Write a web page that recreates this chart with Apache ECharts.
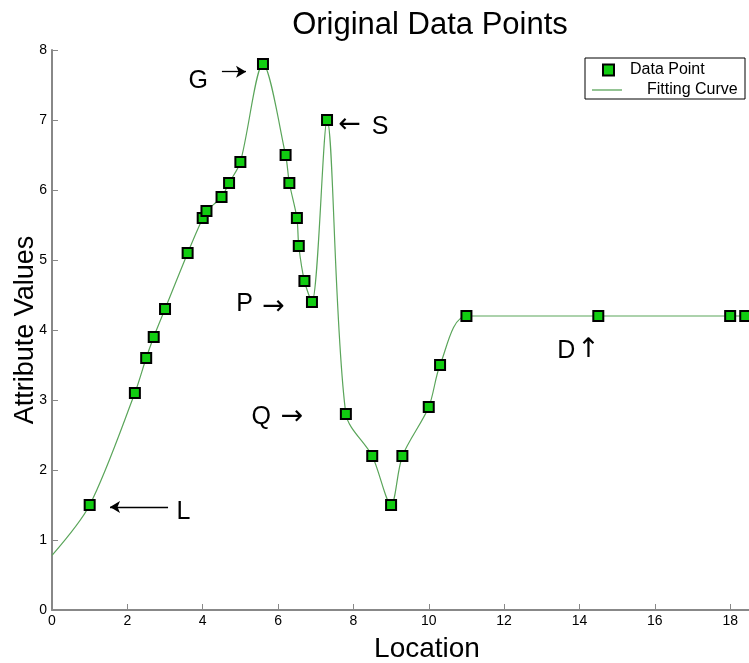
<!DOCTYPE html>
<html><head><meta charset="utf-8">
<script src="https://cdn.jsdelivr.net/npm/echarts@6/dist/echarts.min.js"></script>
<style>html,body{margin:0;padding:0;background:#fff}#c{width:749px;height:663px}</style>
</head><body><div id="c"></div>
<script>
// Data
const locations = [1.0, 2.2, 2.5, 2.7, 3.0, 3.6, 4.0, 4.1, 4.5, 4.7, 5.0, 5.6, 6.2, 6.3, 6.5, 6.55, 6.7, 6.9, 7.3, 7.8, 8.5, 9.0, 9.3, 10.0, 10.3, 11.0, 14.5, 18.0, 18.4];
const attributeValues = [1.5, 3.1, 3.6, 3.9, 4.3, 5.1, 5.6, 5.7, 5.9, 6.1, 6.4, 7.8, 6.5, 6.1, 5.6, 5.2, 4.7, 4.4, 7.0, 2.8, 2.2, 1.5, 2.2, 2.9, 3.5, 4.2, 4.2, 4.2, 4.2];
// fitting curve: starts at the y-intercept seen in the picture, passes through the points, runs to the right edge
const curveStart = [0, 0.78];
const curveEnd = [18.5, 4.2];
const xTicks = [0, 2, 4, 6, 8, 10, 12, 14, 16, 18];
const yTicks = [0, 1, 2, 3, 4, 5, 6, 7, 8];
// text annotations (letters and open arrow glyphs), in data coordinates
const annotationTexts = ['G', 'S', '\u2190', 'P', '\u2192', 'Q', '\u2192', 'D', '\u2191', 'L'];
const annotationX = [3.88, 8.71, 7.9, 5.11, 5.88, 5.55, 6.37, 13.65, 14.24, 3.49];
const annotationY = [7.56, 6.9, 6.93, 4.37, 4.33, 2.76, 2.76, 3.7, 3.71, 1.4];
// filled-head arrows (from, to) in data coordinates
const arrowLines = [[[4.51, 7.69], [5.15, 7.69]], [[3.08, 1.47], [1.54, 1.47]]];

const pts = locations.map((x, i) => [x, attributeValues[i]]);
const curve = [curveStart].concat(pts, [curveEnd]);
const font = 'Liberation Sans, Arial, Helvetica, sans-serif';
const isArrow = t => /[\u2190-\u2193]/.test(t);

const chart = echarts.init(document.getElementById('c'), null, {renderer: 'canvas'});
chart.setOption({
  animation: false,
  backgroundColor: '#fff',
  title: {text: 'Original Data Points', left: 425, top: 5, textAlign: 'center',
    textStyle: {fontFamily: font, fontSize: 31, fontWeight: 'normal', color: '#000'}},
  graphic: [{
    type: 'rect', z: 5, silent: true,
    shape: {x: 585, y: 58, width: 160, height: 41},
    style: {fill: '#fff', stroke: '#000', lineWidth: 1}
  }],
  legend: [
    {
      left: 602, top: 62, z: 10, padding: 0, itemWidth: 11, itemHeight: 11,
      textStyle: {fontFamily: font, fontSize: 16, color: '#000', padding: [0, 0, 0, 11]},
      data: [{name: 'Data Point', icon: 'rect',
        itemStyle: {color: '#11cc11', borderColor: '#000', borderWidth: 2, opacity: 1}}]
    },
    {
      left: 592, top: 82, z: 10, padding: 0, itemWidth: 30, itemHeight: 1.3,
      textStyle: {fontFamily: font, fontSize: 16, color: '#000', padding: [0, 0, 0, 20]},
      data: [{name: 'Fitting Curve', icon: 'rect'}]
    }
  ],
  grid: {left: 52, right: 0, top: 50, bottom: 53, containLabel: false, outerBoundsMode: 'none'},
  xAxis: {
    type: 'value', min: 0, max: 18.5, interval: 2,
    name: 'Location', nameLocation: 'middle', nameGap: 25, nameMoveOverlap: false,
    nameTextStyle: {fontFamily: font, fontSize: 28, color: '#000', padding: [0, 0, 0, 53]},
    axisLine: {lineStyle: {color: '#888', width: 2}},
    axisTick: {inside: true, length: 6, lineStyle: {color: '#888'}},
    axisLabel: {showMaxLabel: false, fontFamily: font, fontSize: 14, color: '#000', margin: 4,
      formatter: v => xTicks.indexOf(v) >= 0 ? String(v) : ''},
    splitLine: {show: false}
  },
  yAxis: {
    type: 'value', min: 0, max: 8, interval: 1,
    name: 'Attribute Values', nameLocation: 'middle', nameGap: 13, nameMoveOverlap: false,
    nameTextStyle: {fontFamily: font, fontSize: 27, color: '#000'},
    axisLine: {show: true, lineStyle: {color: '#888', width: 2}},
    axisTick: {show: true, inside: true, length: 6, lineStyle: {color: '#888'}},
    axisLabel: {fontFamily: font, fontSize: 14, color: '#000', margin: 5,
      formatter: v => yTicks.indexOf(v) >= 0 ? String(v) : ''},
    splitLine: {show: false}
  },
  series: [
    {
      name: 'Fitting Curve', type: 'line', data: curve, smooth: 0.3,
      symbol: 'none', z: 2,
      lineStyle: {color: '#5aa55a', width: 1.2},
      itemStyle: {color: '#5aa55a'}
    },
    {
      name: 'Data Point', type: 'scatter', data: pts, symbol: 'rect', symbolSize: 10, z: 3,
      itemStyle: {color: '#11cc11', borderColor: '#000', borderWidth: 2, opacity: 1}
    },
    {
      name: 'annotations', type: 'scatter', symbolSize: 0, silent: true, z: 4,
      itemStyle: {opacity: 1},
      data: annotationTexts.map((t, i) => ({
        value: [annotationX[i], annotationY[i]], name: t,
        label: isArrow(t) ? {fontFamily: 'DejaVu Sans', fontSize: 27} : {}
      })),
      label: {show: true, position: 'inside', formatter: p => p.name,
        fontFamily: font, fontSize: 25, color: '#000', opacity: 1},
      markLine: {
        silent: true, symbol: ['none', 'arrow'], symbolSize: [9, 10], animation: false,
        lineStyle: {color: '#000', width: 1.3, type: 'solid', opacity: 1},
        label: {show: false},
        data: arrowLines.map(l => [{coord: l[0]}, {coord: l[1]}])
      }
    }
  ]
});
</script>
</body></html>
